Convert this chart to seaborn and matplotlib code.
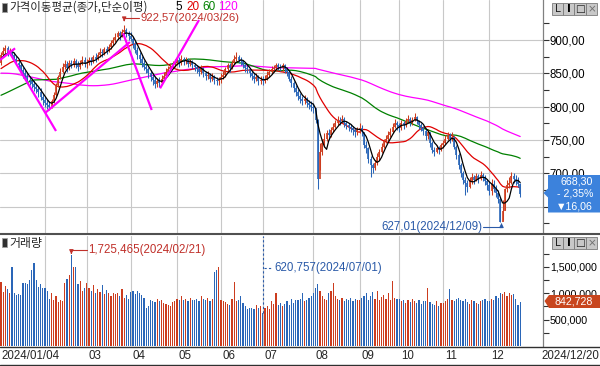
import numpy as np
import pandas as pd
import matplotlib
matplotlib.use("Agg")
import matplotlib.pyplot as plt
from matplotlib import font_manager
from matplotlib.patches import Rectangle, Polygon
from matplotlib.transforms import blended_transform_factory
import seaborn as sns

# closes of the 120 sessions before 2024/01/04 (only feed the moving averages)
prior_close = [
    880, 885, 892, 897, 903, 910, 918, 925, 938, 935,
    925, 915, 918, 928, 920, 910, 900, 905, 912, 900,
    895, 888, 880, 875, 870, 880, 890, 895, 900, 905,
    910, 915, 920, 925, 922, 918, 912, 905, 900, 898,
    890, 882, 875, 870, 865, 860, 855, 850, 845, 843,
    840, 835, 830, 820, 810, 815, 820, 825, 818, 812,
    805, 800, 795, 790, 785, 780, 775, 770, 765, 760,
    755, 750, 745, 745, 755, 765, 820, 815, 810, 805,
    800, 795, 800, 805, 810, 815, 812, 808, 810, 815,
    818, 820, 815, 810, 808, 812, 820, 825, 830, 835,
    838, 840, 845, 842, 840, 845, 850, 855, 858, 855,
    852, 855, 858, 860, 862, 866, 866, 870, 879, 866,
]

# daily closes 2024/01/04 - 2024/12/20
close_jan = [878, 884, 888, 880, 884, 878, 872, 866, 862, 855, 850, 846, 840, 838, 834, 830, 826, 822, 815, 810]
close_feb = [806, 802, 800, 808, 818, 832, 845, 852, 860, 864, 858, 866, 862, 868, 864, 860, 866, 870, 865]
close_mar = [866, 870, 868, 874, 872, 878, 882, 880, 886, 884, 890, 895, 900, 904, 910, 906, 912, 915, 910, 906]
close_apr = [902, 894, 885, 878, 872, 866, 860, 856, 850, 845, 840, 834, 838, 836, 842, 846, 852, 856, 860, 864, 866]
close_may = [870, 866, 872, 868, 870, 864, 868, 862, 860, 856, 852, 858, 850, 846, 848, 842, 845, 840, 838, 840]
close_jun = [845, 848, 856, 862, 858, 866, 872, 875, 870, 868, 862, 858, 856, 850, 846, 842, 845, 838, 840]
close_jul = [838, 842, 848, 852, 856, 858, 862, 860, 858, 862, 856, 852, 842, 835, 828, 822, 816, 812, 808, 812,
             806, 802, 800]
close_aug = [798, 780, 691, 732, 745, 752, 760, 758, 765, 770, 775, 780, 778, 782, 776, 772, 770, 768, 765, 762, 766]
close_sep = [768, 762, 742, 738, 722, 712, 708, 716, 725, 732, 740, 748, 752, 758, 762, 770, 775, 772]
close_oct = [768, 775, 772, 778, 782, 776, 780, 785, 778, 772, 768, 764, 756, 762, 745, 735, 732, 738, 735, 742]
close_nov = [746, 752, 758, 752, 755, 740, 728, 712, 700, 690, 685, 680, 688, 694, 690, 696, 692, 698, 694, 688, 682]
close_dec = [673, 684, 677, 670, 661, 627.01, 643, 676, 683, 685, 696, 692, 690, 684.36, 668.30]

# daily highs / lows
high_jan = [882, 889, 893, 891, 888, 887, 882, 876, 870, 866, 860, 855, 852, 846, 843, 840, 836, 831, 828, 820]
low_jan = [862, 874, 880, 876, 877, 874, 868, 862, 856, 850, 843, 840, 835, 832, 828, 824, 820, 814, 810, 803]
high_feb = [816, 812, 808, 812, 822, 836, 848, 858, 865, 870, 868, 870, 870, 873, 872, 868, 870, 876, 874]
low_feb = [800, 796, 795, 798, 806, 816, 830, 842, 850, 856, 852, 855, 858, 860, 858, 854, 856, 862, 860]
high_mar = [872, 875, 875, 878, 880, 882, 888, 887, 890, 891, 894, 900, 905, 910, 914, 914, 916, 922.57, 918, 914]
low_mar = [858, 862, 863, 865, 867, 870, 875, 874, 878, 879, 882, 886, 893, 897, 902, 900, 904, 908, 905, 900]
high_apr = [912, 905, 898, 890, 882, 876, 870, 864, 860, 855, 850, 846, 843, 844, 847, 852, 858, 861, 866, 868, 872]
low_apr = [898, 888, 880, 872, 866, 860, 855, 850, 843, 838, 833, 828, 830, 830, 834, 840, 844, 850, 854, 858, 860]
high_may = [876, 874, 877, 875, 875, 873, 872, 870, 866, 863, 860, 862, 860, 854, 853, 850, 850, 848, 844, 845]
low_may = [862, 860, 863, 863, 864, 859, 861, 857, 854, 850, 846, 849, 845, 840, 842, 837, 838, 834, 832, 833]
high_jun = [850, 853, 860, 866, 866, 870, 878, 882, 878, 875, 870, 865, 862, 858, 853, 850, 850, 848, 846]
low_jun = [835, 841, 845, 852, 852, 856, 864, 868, 866, 862, 858, 852, 850, 845, 840, 836, 838, 832, 834]
high_jul = [846, 848, 853, 857, 861, 863, 866, 866, 864, 866, 864, 860, 855, 846, 838, 832, 826, 820, 816, 818,
            815, 810, 808]
low_jul = [832, 835, 840, 845, 849, 852, 855, 855, 853, 854, 851, 846, 838, 830, 822, 816, 810, 806, 802, 804,
           800, 796, 794]
high_aug = [806, 795, 782, 745, 752, 760, 765, 766, 770, 776, 780, 786, 785, 788, 784, 779, 776, 774, 771, 768, 770]
low_aug = [790, 776, 676, 705, 728, 740, 748, 750, 755, 762, 768, 772, 772, 775, 770, 766, 764, 762, 758, 755, 758]
high_sep = [775, 772, 760, 748, 740, 726, 716, 720, 730, 737, 745, 752, 758, 763, 768, 776, 782, 778]
low_sep = [760, 756, 738, 730, 716, 695, 700, 705, 712, 720, 730, 738, 745, 748, 754, 760, 768, 765]
high_oct = [776, 780, 779, 783, 787, 784, 784, 790, 786, 780, 776, 771, 766, 766, 760, 748, 740, 742, 741, 746]
low_oct = [762, 765, 766, 770, 775, 771, 773, 778, 774, 767, 763, 758, 750, 752, 740, 730, 726, 730, 729, 733]
high_nov = [750, 758, 762, 761, 762, 756, 742, 730, 715, 703, 695, 690, 694, 700, 697, 700, 699, 703, 700, 697, 692]
low_nov = [738, 744, 750, 746, 748, 736, 722, 706, 694, 684, 668, 672, 678, 684, 684, 688, 686, 690, 688, 682, 675]
high_dec = [688, 692, 690, 683, 675, 665, 660, 678, 690, 694, 702, 700, 697, 694, 686]
low_dec = [668, 668, 672, 664, 655, 627.01, 630, 645, 672, 678, 684, 686, 682, 680, 665]

# volume, thousand shares
vol_jan = [1210, 1020, 1130, 1080, 1000, 1500, 1010, 960, 990, 970, 1190, 1200, 1180, 1250, 1440, 1570, 1250, 1120,
           1180, 1100]
vol_feb = [1100, 1050, 900, 1000, 880, 950, 830, 870, 850, 1200, 1280, 1350, 1725.465, 1500, 1500, 1180, 1230, 1050,
           1100]
vol_mar = [1200, 1100, 1050, 1150, 1000, 1080, 1020, 1150, 980, 1060, 1000, 950, 1010, 980, 1000, 950, 1080, 920, 960,
           900]
vol_apr = [1020, 1050, 990, 1040, 1000, 960, 920, 720, 760, 880, 860, 840, 900, 850, 870, 820, 800, 780, 760, 830, 850]
vol_may = [900, 870, 950, 880, 900, 850, 920, 870, 880, 900, 860, 950, 900, 880, 920, 860, 900, 1400, 1450, 1490]
vol_jun = [880, 850, 830, 800, 780, 900, 1220, 860, 880, 940, 820, 760, 700, 720, 730, 700, 780, 720, 760]
vol_jul = [620.757, 720, 760, 700, 850, 800, 1000, 780, 820, 760, 800, 850, 780, 900, 820, 870, 880, 900, 1000, 860,
           880, 920, 950]
vol_aug = [1000, 1100, 1170, 1050, 950, 900, 880, 1000, 1050, 1200, 950, 900, 880, 920, 850, 900, 880, 920, 860, 900, 870]
vol_sep = [880, 920, 950, 1000, 880, 950, 1020, 900, 1050, 880, 930, 960, 900, 1000, 880, 1230, 920, 900]
vol_oct = [900, 850, 880, 820, 870, 840, 900, 860, 820, 880, 800, 850, 850, 1100, 830, 800, 780, 850, 760, 820]
vol_nov = [820, 860, 900, 1080, 880, 850, 900, 920, 880, 850, 900, 830, 800, 880, 860, 820, 800, 850, 870, 900, 850]
vol_dec = [850, 900, 880, 950, 920, 1000, 980, 1020, 950, 1000, 960, 980, 900, 780, 842.728]

month_labels = ['01', '02', '03', '04', '05', '06', '07', '08', '09', '10', '11', '12']
first_date, last_date = '2024/01/04', '2024/12/20'

# hand drawn trend lines: (bar, price) -> (bar, price)
trend_lines = [((-0.45, 870), (6.4, 887.5)), ((3.2, 885), (25.0, 763.5)), ((20.0, 790.5), (58.6, 897)),
               ((55.5, 910), (68.5, 795)), ((72.3, 827.5), (90.0, 930))]

ma_periods = [120, 60, 20, 5]
ma_colors = {5: '#000000', 20: '#e00000', 60: '#008000', 120: '#ff00ff'}

RED, BLUE = '#cc3c1e', '#2a66b8'

sns.set_theme(style="white")
names = {f.name for f in font_manager.fontManager.ttflist}
narrow = 'Liberation Sans Narrow' in names
NUM = 'Liberation Sans Narrow' if narrow else 'Liberation Sans'
NS = 10 if narrow else 8.3
VS = 10 if narrow else 7.7
plt.rcParams['font.family'] = [NUM, 'Noto Sans CJK KR', 'DejaVu Sans']
KR = ['Noto Sans CJK KR', 'DejaVu Sans']

months_close = [close_jan, close_feb, close_mar, close_apr, close_may, close_jun,
                close_jul, close_aug, close_sep, close_oct, close_nov, close_dec]
months_high = [high_jan, high_feb, high_mar, high_apr, high_may, high_jun,
               high_jul, high_aug, high_sep, high_oct, high_nov, high_dec]
months_low = [low_jan, low_feb, low_mar, low_apr, low_may, low_jun,
              low_jul, low_aug, low_sep, low_oct, low_nov, low_dec]
months_vol = [vol_jan, vol_feb, vol_mar, vol_apr, vol_may, vol_jun,
              vol_jul, vol_aug, vol_sep, vol_oct, vol_nov, vol_dec]
close = sum(months_close, [])
highs = np.array(sum(months_high, []), dtype=float)
lows = np.array(sum(months_low, []), dtype=float)
vol = np.array(sum(months_vol, [])) * 1000
n = len(close)
idx = np.arange(n)
month_start = np.cumsum([0] + [len(m) for m in months_close[:-1]])

full = pd.Series(prior_close + close, dtype=float)
ma = pd.DataFrame({'i': idx})
for p in ma_periods:
    ma[f'ma{p}'] = full.rolling(p).mean().iloc[len(prior_close):].to_numpy()

opens = np.array([prior_close[-1]] + close[:-1], dtype=float)
closes = np.array(close, dtype=float)
body_lo = np.minimum(opens, closes)
body_hi = np.maximum(np.maximum(opens, closes), body_lo + 1.3)
colors = np.where(closes >= opens, RED, BLUE)

# --- layout in pixels (600 x 366)
W, H = 600, 366
def box(x0, y0, x1, y1):
    return [x0 / W, 1 - y1 / H, (x1 - x0) / W, (y1 - y0) / H]

def px2i(x):
    return (x - 1) / 2.2

fig = plt.figure(figsize=(6, 3.66), dpi=100)
fig.patch.set_facecolor('white')
ax1 = fig.add_axes(box(0, 0, 543, 233))
ax2 = fig.add_axes(box(0, 236, 543, 346))

grid_kw = dict(color='#c8c8c8', lw=0.8)
for ax, ls in ((ax1, NS), (ax2, VS)):
    ax.set_xlim(px2i(0), px2i(543))
    ax.set_facecolor('white')
    ax.set_axisbelow(True)
    for s in ax.spines.values():
        s.set_visible(False)
    ax.spines['right'].set_visible(True)
    ax.spines['right'].set_color('#808080')
    ax.spines['right'].set_linewidth(0.9)
    ax.yaxis.tick_right()
    ax.tick_params(axis='y', which='major', direction='out', length=4, width=0.8, color='#303030',
                   labelsize=ls, pad=1, labelcolor='#000000')
    ax.tick_params(axis='y', which='minor', direction='out', length=4, width=0.8, color='#303030')

# price panel
ax1.set_ylim(610.5, 960)
ax1.set_xticks(month_start[1:])
ax1.tick_params(axis='x', length=0, labelbottom=False)
price_ticks = list(range(650, 901, 50))
ax1.set_yticks(price_ticks)
# the 650 label sits under the last-price box in the original
ax1.set_yticklabels(['' if v == 650 else f'{v},00' for v in price_ticks])
ax1.set_yticks(range(625, 951, 50), minor=True)
ax1.grid(True, which='major', **grid_kw)

for p in [120, 60, 20]:
    sns.lineplot(data=ma, x='i', y=f'ma{p}', color=ma_colors[p], lw=0.9, ax=ax1, zorder=2)
ax1.vlines(idx, lows, highs, colors=colors, lw=0.75, zorder=3)
ax1.vlines(idx, body_lo, body_hi, colors=colors, lw=1.2, zorder=3)
sns.lineplot(data=ma, x='i', y='ma5', color=ma_colors[5], lw=0.9, ax=ax1, zorder=4)
for (i0, p0), (i1, p1) in trend_lines:
    ax1.plot([i0, i1], [p0, p1], color='#ff00ff', lw=1.6, zorder=5, solid_capstyle='butt')
ax1.set_xlabel('')
ax1.set_ylabel('')

# max / min markers on price
hi_i = int(np.argmax(highs))
lo_i = int(np.argmin(lows))
rc, bc = '#c0302a', '#2a5aa8'
ax1.plot([hi_i, hi_i + 6.8], [933.5, 933.5], color=rc, lw=0.8)
ax1.annotate('', xy=(hi_i, highs[hi_i] + 1), xytext=(hi_i, 933.5),
             arrowprops=dict(arrowstyle='-|>', color=rc, lw=0.8, mutation_scale=6))
ax1.text(hi_i + 7.2, 932.5, f'{highs[hi_i]:.2f}'.replace('.', ',') + '(2024/03/26)',
         color=rc, fontsize=NS - 0.2, va='center', ha='left')
ax1.plot([lo_i - 7.8, lo_i + 0.5], [619.5, 619.5], color=bc, lw=0.8)
ax1.annotate('', xy=(lo_i + 0.5, lows[lo_i] - 1.5), xytext=(lo_i + 0.5, 619.5),
             arrowprops=dict(arrowstyle='-|>', color=bc, lw=0.8, mutation_scale=6))
ax1.text(lo_i - 8.2, 619.5, f'{lows[lo_i]:.2f}'.replace('.', ',') + '(2024/12/09)',
         color=bc, fontsize=NS, va='center', ha='right')

# volume panel
ax2.set_ylim(0, 2.087e6)
ax2.bar(idx, vol, width=0.55, color=colors, linewidth=0, zorder=3)
ax2.set_xticks(month_start[1:])
ax2.set_xticklabels([])
ax2.tick_params(axis='x', which='major', direction='out', length=7, width=0.8, color='#303030', pad=0)
ax2.xaxis.get_major_ticks()[0].tick1line.set_visible(False)
ax2.grid(True, axis='x', **grid_kw)
vol_ticks = [500000, 1000000, 1500000]
ax2.set_yticks(vol_ticks)
ax2.set_yticklabels([f'{v:,}' for v in vol_ticks])
ax2.set_yticks([250000, 750000, 1250000, 1750000], minor=True)
ax2.set_xlabel('')
ax2.set_ylabel('')

vmax_i = int(np.argmax(vol))
vmin_i = int(np.argmin(vol))
ax2.plot([vmax_i, vmax_i + 7], [1.822e6, 1.822e6], color=rc, lw=0.8)
ax2.annotate('', xy=(vmax_i, vol[vmax_i] + 15000), xytext=(vmax_i, 1.822e6),
             arrowprops=dict(arrowstyle='-|>', color=rc, lw=0.8, mutation_scale=6))
ax2.text(vmax_i + 7.4, 1.822e6, f'{int(round(vol[vmax_i])):,}(2024/02/21)', color=rc, fontsize=NS,
         va='center', ha='left')
ax2.plot([vmin_i, vmin_i], [vol[vmin_i], 2.087e6], color=bc, lw=0.8, ls=(0, (2, 2)), zorder=4)
ax2.plot([vmin_i + 0.4, vmin_i + 4.2], [1.48e6, 1.48e6], color=bc, lw=0.8, ls=(0, (2, 2)))
ax2.text(vmin_i + 5.3, 1.48e6, f'{int(round(vol[vmin_i])):,}(2024/07/01)', color=bc, fontsize=NS,
         va='center', ha='left')

trans = blended_transform_factory(ax2.transData, ax2.transAxes)
for s, lab in zip(month_start[2:], month_labels[2:]):
    ax2.text(s + 0.9, -0.09, lab, transform=trans, fontsize=NS, va='center', ha='left', clip_on=False)

# overlay in pixel coordinates for the frame, titles and value boxes
ov = fig.add_axes([0, 0, 1, 1], zorder=10)
ov.set_xlim(0, W)
ov.set_ylim(H, 0)
ov.axis('off')
ov.patch.set_alpha(0)

ov.plot([0, 600], [234.2, 234.2], color='#505050', lw=1.5)
ov.plot([0, 600], [346.5, 346.5], color='#303030', lw=1.0)
ov.plot([0, 600], [365.3, 365.3], color='#303030', lw=1.0)

ov.text(1, 356, first_date, fontsize=NS, va='center', ha='left')
ov.text(599, 356, last_date, fontsize=NS, va='center', ha='right')

# panel titles
for y in (7.5, 242.5):
    ov.add_patch(Rectangle((2, y - 4.5), 4.5, 9, facecolor='#303030', edgecolor='#a0a0a0', lw=0.6))
ov.text(9, 7.5, '가격이동평균(종가,단순이평)', family=KR, fontsize=8.3, va='center', ha='left')
for x, t, c in [(175, '5', ma_colors[5]), (186, '20', ma_colors[20]), (202, '60', ma_colors[60]),
                (218, '120', ma_colors[120])]:
    ov.text(x, 7, t, color=c, fontsize=NS + 0.2, va='center', ha='left')
ov.text(9, 243, '거래량', family=KR, fontsize=8.6, va='center', ha='left')

# window buttons
for y0 in (3, 237):
    for (x0, x1), t, tc in zip([(552, 563), (563, 574), (574, 586), (586, 597)], ['L', 'I', '□', '×'],
                               ['#202020', '#000000', '#202020', '#707070']):
        ov.add_patch(Rectangle((x0, y0), x1 - x0 - 0.5, 11.5, facecolor='#c8c8c8', edgecolor='#7a7a7a', lw=0.6))
        ov.text((x0 + x1) / 2, y0 + 6, t, color=tc, fontsize=7.5, va='center', ha='center',
                fontweight='bold' if t == 'I' else 'normal', family=['DejaVu Sans'])

# last price box
last, prev = closes[-1], closes[-2]
chg = last - prev
ov.add_patch(Polygon([(543.5, 193), (548, 188.5), (548, 175), (600, 175), (600, 212.5), (548, 212.5),
                      (548, 197.5)], closed=True, facecolor='#3c82dc', edgecolor='none'))
bs = NS - 0.6
ov.text(593, 181.5, f'{last:.2f}'.replace('.', ','), color='white', fontsize=bs, va='center', ha='right')
ov.text(593, 194, f'- {abs(chg) / prev * 100:.2f}%'.replace('.', ','), color='white', fontsize=bs,
        va='center', ha='right')
ov.text(593, 206.5, f'▼{abs(chg):.2f}'.replace('.', ','), color='white', fontsize=bs, va='center', ha='right')

# last volume box
ov.add_patch(Polygon([(544.5, 301), (549, 295), (600, 295), (600, 308), (549, 308)], closed=True,
                     facecolor='#c8461e', edgecolor='none'))
ov.text(593, 301.5, f'{int(round(vol[-1])):,}', color='white', fontsize=bs, va='center', ha='right')

fig.savefig('out.png', dpi=100, facecolor='white')
